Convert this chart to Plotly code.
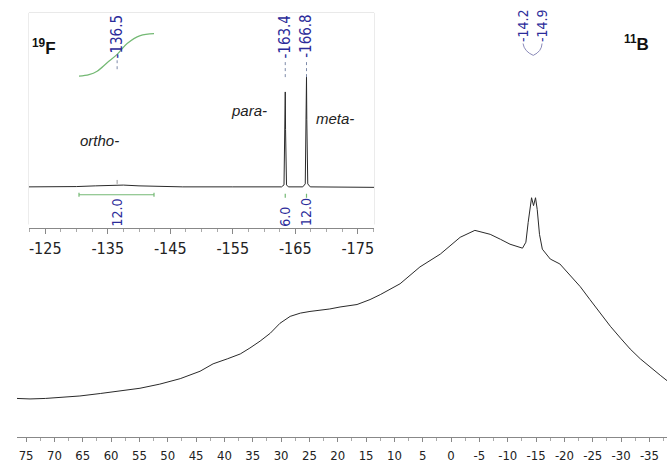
import plotly.graph_objects as go

# ---------------- data ----------------
# 11B main spectrum: chemical shift (ppm) and intensity (arbitrary units)
b11_ppm = [76.6, 74.3, 71.6, 69.0, 65.5, 61.9, 58.4, 54.9, 51.4, 47.8, 44.3, 42.0, 39.5, 37.2,
           35.5, 33.7, 31.9, 30.2, 28.4, 26.6, 24.9, 23.1, 21.4, 19.6, 16.6, 14.3, 12.5, 9.0,
           5.5, 1.9, -1.6, -4.2, -6.9, -8.7, -10.4, -12.6, -13.2, -13.6, -14.0, -14.2, -14.55,
           -14.9, -15.2, -15.6, -16.1, -17.5, -19.2, -21.0, -22.8, -24.5, -26.3, -28.1, -29.9,
           -31.6, -33.4, -35.2, -37.0, -38.1]
b11_int = [39, 38.5, 39, 40, 41.5, 44, 46.5, 49.3, 53.5, 59, 66.5, 74, 79, 84,
           90, 97, 105, 115, 122, 125.3, 127, 128, 129.5, 131.5, 134, 139, 144, 155,
           172, 185, 202, 209, 205, 200, 195, 191, 197, 217, 237, 242, 234,
           242, 230, 205, 190, 180, 175, 164, 152, 139, 125, 112, 100,
           89, 79, 70, 62, 57]

# 19F inset spectrum
f19_ppm = [-122.4, -126, -130, -133, -135.5, -136.5, -137.5, -140, -143, -147, -155,
           -162.8, -163.2, -163.35, -163.4, -163.45, -163.6, -163.9,
           -166.2, -166.6, -166.75, -166.8, -166.85, -167.0, -167.4, -177.6]
f19_int = [42, 42, 42.3, 43, 43.8, 44.2, 43.8, 43, 42.3, 42, 42,
           42, 44, 100, 138, 100, 44, 42,
           42, 45, 110, 153, 110, 45, 42, 41.5]

# integral curve of the ortho- signal
integral_ppm = [-130.4, -132.0, -133.3, -134.9, -136.5, -138.1, -140.2, -142.4]
integral_val = [154, 155.5, 159, 167.5, 176, 187, 195, 197]

# peak picks and integrals
f19_peaks = [-136.5, -163.4, -166.8]
f19_peak_labels = ["-136.5", "-163.4", "-166.8"]
f19_integral_pos = [-136.5, -163.4, -166.8]
f19_integral_labels = ["12.0", "6.0", "12.0"]
b11_peak_labels = ["-14.2", "-14.9"]
b11_label_pos = [-12.7, -16.05]

main_ticks = [75, 70, 65, 60, 55, 50, 45, 40, 35, 30, 25, 20, 15, 10, 5, 0, -5, -10, -15, -20, -25, -30, -35]
main_ticktext = [str(v) for v in main_ticks]
inset_ticks = [-125, -135, -145, -155, -165, -175]
inset_ticktext = [str(v) for v in inset_ticks]

# ---------------- figure ----------------
W, H = 667, 463
ML, MR, MT, MB = 17, 0, 0, 21
PW, PH = W - ML - MR, H - MT - MB


def px(xp):
    return (xp - ML) / PW


def py(yp):
    return (MT + PH - yp) / PH


NAVY = "#2b2b9a"
GREEN = "#74b974"
LINE = "#2a2a2a"
FONT = "DejaVu Sans Condensed, DejaVu Sans, sans-serif"

fig = go.Figure()
fig.add_trace(go.Scatter(x=b11_ppm, y=b11_int, mode="lines",
                         line=dict(color=LINE, width=1), xaxis="x", yaxis="y",
                         hoverinfo="skip", showlegend=False))
fig.add_trace(go.Scatter(x=f19_ppm, y=f19_int, mode="lines",
                         line=dict(color=LINE, width=1), xaxis="x2", yaxis="y2",
                         hoverinfo="skip", showlegend=False))
fig.add_trace(go.Scatter(x=integral_ppm, y=integral_val, mode="lines",
                         line=dict(color=GREEN, width=1.2, shape="spline"), xaxis="x2", yaxis="y2",
                         hoverinfo="skip", showlegend=False))
# integral bar
bar_y = 34
fig.add_trace(go.Scatter(x=[integral_ppm[0], integral_ppm[-1]], y=[bar_y, bar_y], mode="lines",
                         line=dict(color=GREEN, width=1.2), xaxis="x2", yaxis="y2",
                         hoverinfo="skip", showlegend=False))

shapes = []
# inset frame
shapes.append(dict(type="rect", xref="paper", yref="paper", x0=px(29), x1=px(374),
                   y0=py(227), y1=py(13), line=dict(color="#d8d8d8", width=1), layer="below"))
# integral bar end caps
for xv in (integral_ppm[0], integral_ppm[-1]):
    shapes.append(dict(type="line", xref="x2", yref="y2", x0=xv, x1=xv, y0=bar_y - 2, y1=bar_y + 2,
                       line=dict(color=GREEN, width=1.2)))
# small green marks above para/meta integral labels
for xv in f19_integral_pos[1:]:
    shapes.append(dict(type="line", xref="x2", yref="y2", x0=xv, x1=xv, y0=31, y1=35,
                       line=dict(color=GREEN, width=1.2)))
# small tick on the ortho hump
shapes.append(dict(type="line", xref="x2", yref="y2", x0=-136.5, x1=-136.5, y0=45, y1=49,
                   line=dict(color="#999999", width=1)))
# peak pick connector lines (inset)
pick_bottoms = [161, 153, 153]
for xv, yb in zip(f19_peaks, pick_bottoms):
    shapes.append(dict(type="line", xref="x2", yref="y2", x0=xv, x1=xv, y0=yb, y1=170,
                       line=dict(color="#7d8aa8", width=1, dash="dot")))
# brace connector for 11B picks
shapes.append(dict(type="path", xref="x", yref="y",
                   path="M -12.7,398 Q -12.9,390 -14.5,386 Q -16.0,390 -16.05,398",
                   line=dict(color="#8a8ab8", width=1)))

annotations = []
for xv, t in zip(f19_peaks, f19_peak_labels):
    annotations.append(dict(x=xv, y=171, xref="x2", yref="y2", text=t, textangle=-90,
                            showarrow=False, xanchor="center", yanchor="bottom",
                            font=dict(family=FONT, size=15, color=NAVY), borderpad=0))
for xv, t in zip(f19_integral_pos, f19_integral_labels):
    annotations.append(dict(x=xv, y=1, xref="x2", yref="y2", text=t, textangle=-90,
                            showarrow=False, xanchor="center", yanchor="bottom",
                            font=dict(family=FONT, size=14, color=NAVY), borderpad=0))
for xv, t in zip(b11_label_pos, b11_peak_labels):
    annotations.append(dict(x=xv, y=398, xref="x", yref="y", text=t, textangle=-90,
                            showarrow=False, xanchor="center", yanchor="bottom",
                            font=dict(family=FONT, size=14, color=NAVY), borderpad=0))

annotations += [
    dict(x=px(30), y=py(48), xref="paper", yref="paper", xanchor="left", yanchor="middle",
         text="<b><sup>19</sup>F</b>", showarrow=False,
         font=dict(family="Liberation Sans, Arial, sans-serif", size=17, color="#111")),
    dict(x=px(622), y=py(43), xref="paper", yref="paper", xanchor="left", yanchor="middle",
         text="<b><sup>11</sup>B</b>", showarrow=False,
         font=dict(family="Liberation Sans, Arial, sans-serif", size=17, color="#111")),
    dict(x=px(99), y=py(142), xref="paper", yref="paper", xanchor="center", yanchor="middle",
         text="<i>ortho-</i>", showarrow=False,
         font=dict(family="Liberation Sans, Arial, sans-serif", size=15, color="#222")),
    dict(x=px(249), y=py(112), xref="paper", yref="paper", xanchor="center", yanchor="middle",
         text="<i>para-</i>", showarrow=False,
         font=dict(family="Liberation Sans, Arial, sans-serif", size=15, color="#222")),
    dict(x=px(335), y=py(120), xref="paper", yref="paper", xanchor="center", yanchor="middle",
         text="<i>meta-</i>", showarrow=False,
         font=dict(family="Liberation Sans, Arial, sans-serif", size=15, color="#222")),
]

fig.update_layout(
    width=W, height=H,
    margin=dict(l=ML, r=MR, t=MT, b=MB, pad=0),
    paper_bgcolor="white", plot_bgcolor="white",
    showlegend=False,
    xaxis=dict(range=[76.6, -38.1], domain=[0, 1], anchor="y",
               tickmode="array", tickvals=main_ticks, ticktext=main_ticktext,
               ticks="outside", ticklen=4, tickcolor="#888", tickwidth=1,
               ticklabelstandoff=2,
               minor=dict(dtick=2.5, tick0=0, ticks="outside", ticklen=3, tickcolor="#aaa"),
               showline=True, linecolor="#888", linewidth=1,
               showgrid=False, zeroline=False,
               tickfont=dict(family=FONT, size=13, color="#222")),
    yaxis=dict(range=[0, 442], domain=[0, 1], anchor="x", visible=False,
               showgrid=False, zeroline=False),
    xaxis2=dict(range=[-122.4, -177.6], domain=[px(29), px(374)], anchor="y2",
                tickmode="array", tickvals=inset_ticks, ticktext=inset_ticktext,
                ticks="outside", ticklen=5, tickcolor="#888", tickwidth=1,
                minor=dict(dtick=2.5, tick0=0, ticks="outside", ticklen=3, tickcolor="#aaa"),
                showline=True, linecolor="#888", linewidth=1,
                showgrid=False, zeroline=False,
                tickfont=dict(family=FONT, size=16, color="#222")),
    yaxis2=dict(range=[0, 218], domain=[py(231), py(13)], anchor="x2", visible=False,
                showgrid=False, zeroline=False),
    shapes=shapes,
    annotations=annotations,
)

fig.write_html("out.html", config={"displayModeBar": False},
               post_script="document.body.style.margin='0';document.body.style.overflow='hidden';")
